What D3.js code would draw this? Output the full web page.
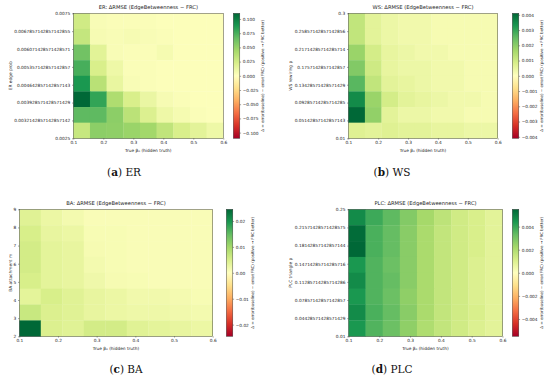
<!DOCTYPE html>
<html>
<head>
<meta charset="utf-8">
<script src="https://cdn.jsdelivr.net/npm/d3@7"></script>
<style>
  body { margin: 0; background: #fff; }
  svg { display: block; }
  text { font-family: "DejaVu Sans", sans-serif; fill: #222; }
  .cap { font-family: "DejaVu Serif", "Liberation Serif", serif; fill: #111; }
</style>
</head>
<body>
<div id="chart"></div>
<script>
// ---- data (rows listed top row first, 9 columns = beta0 bins 0.1..0.6) ----
var betaTicks = [0.1, 0.2, 0.3, 0.4, 0.5, 0.6];

var erYTicks = [0.0025, 0.0032142857142857142, 0.003928571428571429, 0.004642857142857143,
                0.005357142857142857, 0.006071428571428571, 0.0067857142857142855, 0.0075];
var erValues = [
  [0.026, 0.004, 0.003, 0.003, 0.003, 0.002, 0.002, 0.002, 0.002],
  [0.031, 0.005, 0.004, 0.005, 0.004, 0.003, 0.002, 0.002, 0.002],
  [0.062, 0.017, 0.004, 0.003, 0.003, 0.006, 0.002, 0.002, 0.002],
  [0.075, 0.022, 0.010, 0.003, 0.003, 0.002, 0.002, 0.002, 0.002],
  [0.088, 0.036, 0.013, 0.004, 0.003, 0.002, 0.002, 0.002, 0.002],
  [0.110, 0.081, 0.040, 0.022, 0.012, 0.005, 0.003, 0.002, 0.002],
  [0.068, 0.068, 0.053, 0.035, 0.020, 0.010, 0.006, 0.003, 0.002],
  [0.030, 0.053, 0.052, 0.048, 0.045, 0.033, 0.022, 0.016, 0.010]
];
var erMax = 0.11;
var erCbTicks = [-0.1, -0.075, -0.05, -0.025, 0, 0.025, 0.05, 0.075, 0.1];

var wsYTicks = [0.01, 0.05142857142857143, 0.09285714285714285, 0.13428571428571429,
                0.17571428571428571, 0.21714285714285714, 0.25857142857142856, 0.3];
var wsValues = [
  [0.0012, 0.0006, 0.0004, 0.0003, 0.0003, 0.0002, 0.0002, 0.0002, 0.0002],
  [0.0012, 0.0006, 0.0004, 0.0003, 0.0003, 0.0002, 0.0002, 0.0002, 0.0002],
  [0.0018, 0.0009, 0.0005, 0.0004, 0.0003, 0.0003, 0.0002, 0.0002, 0.0002],
  [0.0021, 0.0010, 0.0005, 0.0004, 0.0004, 0.0003, 0.0003, 0.0002, 0.0002],
  [0.0026, 0.0012, 0.0006, 0.0005, 0.0004, 0.0003, 0.0003, 0.0002, 0.0002],
  [0.0035, 0.0018, 0.0009, 0.0006, 0.0005, 0.0004, 0.0003, 0.0003, 0.0002],
  [0.0041, 0.0019, 0.0006, 0.0004, 0.0004, 0.0003, 0.0003, 0.0002, 0.0002],
  [0.0007, 0.0006, 0.0007, 0.0006, 0.0006, 0.0005, 0.0005, 0.0004, 0.0004]
];
var wsMax = 0.0041;
var wsCbTicks = [-0.004, -0.003, -0.002, -0.001, 0, 0.001, 0.002, 0.003, 0.004];

var baYTicks = [2, 3, 4, 5, 6, 7, 8, 9];
var baValues = [
  [0.0040, 0.0025, 0.0015, 0.0008, 0.0008, 0.0008, 0.0008, 0.0008, 0.0008],
  [0.0050, 0.0030, 0.0025, 0.0010, 0.0010, 0.0008, 0.0008, 0.0008, 0.0008],
  [0.0055, 0.0035, 0.0030, 0.0012, 0.0010, 0.0008, 0.0008, 0.0008, 0.0008],
  [0.0055, 0.0035, 0.0030, 0.0015, 0.0010, 0.0008, 0.0008, 0.0008, 0.0008],
  [0.0050, 0.0035, 0.0030, 0.0020, 0.0012, 0.0010, 0.0008, 0.0008, 0.0008],
  [0.0035, 0.0050, 0.0040, 0.0030, 0.0025, 0.0018, 0.0018, 0.0014, 0.0010],
  [0.0065, 0.0045, 0.0040, 0.0030, 0.0025, 0.0022, 0.0022, 0.0018, 0.0015],
  [0.0245, 0.0045, 0.0040, 0.0055, 0.0055, 0.0040, 0.0035, 0.0030, 0.0025]
];
var baMax = 0.0245;
var baCbTicks = [-0.02, -0.01, 0, 0.01, 0.02];

var plcYTicks = [0.01, 0.04428571428571429, 0.07857142857142857, 0.11285714285714286,
                 0.14714285714285716, 0.18142857142857144, 0.21571428571428575, 0.25];
var plcValues = [
  [0.0047, 0.0039, 0.0034, 0.0028, 0.0022, 0.0017, 0.0013, 0.0011, 0.0008],
  [0.0054, 0.0037, 0.0033, 0.0027, 0.0021, 0.0016, 0.0013, 0.0011, 0.0008],
  [0.0055, 0.0037, 0.0033, 0.0027, 0.0021, 0.0016, 0.0013, 0.0011, 0.0008],
  [0.0044, 0.0036, 0.0032, 0.0027, 0.0021, 0.0016, 0.0013, 0.0010, 0.0008],
  [0.0047, 0.0036, 0.0033, 0.0027, 0.0021, 0.0016, 0.0013, 0.0010, 0.0008],
  [0.0044, 0.0036, 0.0032, 0.0026, 0.0021, 0.0016, 0.0013, 0.0010, 0.0008],
  [0.0047, 0.0037, 0.0033, 0.0027, 0.0021, 0.0016, 0.0013, 0.0011, 0.0008],
  [0.0044, 0.0036, 0.0032, 0.0026, 0.0020, 0.0016, 0.0013, 0.0010, 0.0008]
];
var plcMax = 0.0055;
var plcCbTicks = [-0.004, -0.002, 0, 0.002, 0.004];

var cbLabel = "\u0394 = error(baseline) \u2212 error(FRC)  (positive \u2192 FRC better)";
var xLabel = "True \u03b2\u2080 (hidden truth)";

// ---- layout ----
var panels = [
  { name: "ER", values: erValues, yTicks: erYTicks, vmax: erMax, cbTicks: erCbTicks, cbFmt: ".3f",
    ylab: "ER edge prob", cap: ["a", "ER"], capX: 124, capY: 176,
    x0: 73.3, x1: 223.3, y0: 13.3, y1: 138.3, cb: 233.3, ylabX: 10, cbLabX: 263 },
  { name: "WS", values: wsValues, yTicks: wsYTicks, vmax: wsMax, cbTicks: wsCbTicks, cbFmt: ".3f",
    ylab: "WS rewiring p", cap: ["b", "WS"], capX: 392, capY: 176,
    x0: 348.3, x1: 497.7, y0: 13.3, y1: 138.3, cb: 512.3, ylabX: 290, cbLabX: 541.5 },
  { name: "BA", values: baValues, yTicks: baYTicks, vmax: baMax, cbTicks: baCbTicks, cbFmt: ".2f",
    ylab: "BA attachment m", cap: ["c", "BA"], capX: 126, capY: 373,
    x0: 19.3, x1: 212.7, y0: 209.3, y1: 336.3, cb: 226.3, ylabX: 10, cbLabX: 253 },
  { name: "PLC", values: plcValues, yTicks: plcYTicks, vmax: plcMax, cbTicks: plcCbTicks, cbFmt: ".3f",
    ylab: "PLC triangle p", cap: ["d", "PLC"], capX: 392, capY: 373,
    x0: 348.5, x1: 502.5, y0: 209.3, y1: 336.3, cb: 512.3, ylabX: 290, cbLabX: 541.5 }
];

var svg = d3.select("#chart").append("svg")
    .attr("width", 550).attr("height", 382);
svg.append("rect").attr("width", 550).attr("height", 382).attr("fill", "#fff");

var scheme = d3.schemeRdYlGn[11];
var minus = function (s) { return s.replace("-", "\u2212"); };
var defs = svg.append("defs");

panels.forEach(function (p, pi) {
    var g = svg.append("g");
    var nRows = p.values.length, nCols = p.values[0].length;

    var x = d3.scaleLinear().domain([0.1, 0.6]).range([p.x0, p.x1]);
    var y = d3.scaleLinear().domain([p.yTicks[0], p.yTicks[p.yTicks.length - 1]]).range([p.y1, p.y0]);
    var xb = d3.scaleBand().domain(d3.range(nCols)).range([p.x0, p.x1]);
    var yb = d3.scaleBand().domain(d3.range(nRows)).range([p.y0, p.y1]);
    var color = d3.scaleLinear()
        .domain(scheme.map(function (c, i) { return -p.vmax + 2 * p.vmax * i / (scheme.length - 1); }))
        .range(scheme).clamp(true);

    var cells = [];
    p.values.forEach(function (row, r) {
        row.forEach(function (v, c) { cells.push({ r: r, c: c, v: v }); });
    });
    g.selectAll("rect.cell").data(cells).enter().append("rect")
        .attr("class", "cell")
        .attr("x", function (d) { return xb(d.c); })
        .attr("y", function (d) { return yb(d.r); })
        .attr("width", xb.bandwidth() + 0.3)
        .attr("height", yb.bandwidth() + 0.3)
        .attr("fill", function (d) { return color(d.v); });

    g.append("rect")
        .attr("x", p.x0).attr("y", p.y0)
        .attr("width", p.x1 - p.x0).attr("height", p.y1 - p.y0)
        .attr("fill", "none").attr("stroke", "#333").attr("stroke-width", 0.45);

    var xAxis = g.append("g")
        .attr("transform", "translate(0," + p.y1 + ")")
        .call(d3.axisBottom(x).tickValues(betaTicks).tickFormat(d3.format(".1f")).tickSize(1.3).tickPadding(1.6));
    var yAxis = g.append("g")
        .attr("transform", "translate(" + p.x0 + ",0)")
        .call(d3.axisLeft(y).tickValues(p.yTicks).tickFormat(function (d) { return String(d); }).tickSize(1.3).tickPadding(1.8));
    [xAxis, yAxis].forEach(function (a) {
        a.select(".domain").remove();
        a.selectAll("line").attr("stroke", "#333").attr("stroke-width", 0.45);
        a.selectAll("text").style("font-size", "4.3px").style("font-family", "DejaVu Sans").attr("fill", "#222");
    });

    g.append("text")
        .attr("x", (p.x0 + p.x1) / 2).attr("y", p.y0 - 4.2)
        .attr("text-anchor", "middle").style("font-size", "5.2px")
        .text(p.name + ": \u0394RMSE (EdgeBetweenness \u2212 FRC)");
    g.append("text")
        .attr("x", (p.x0 + p.x1) / 2).attr("y", p.y1 + 13.8)
        .attr("text-anchor", "middle").style("font-size", "4.3px")
        .text(xLabel);
    g.append("text")
        .attr("transform", "translate(" + p.ylabX + "," + (p.y0 + p.y1) / 2 + ") rotate(-90)")
        .attr("text-anchor", "middle").attr("dy", "0.35em").style("font-size", "4.3px")
        .text(p.ylab);

    // colorbar
    var gid = "grad" + pi;
    var grad = defs.append("linearGradient").attr("id", gid)
        .attr("x1", 0).attr("y1", 1).attr("x2", 0).attr("y2", 0);
    scheme.forEach(function (c, i) {
        grad.append("stop").attr("offset", i / (scheme.length - 1)).attr("stop-color", c);
    });
    var cbW = 6.5;
    g.append("rect")
        .attr("x", p.cb).attr("y", p.y0)
        .attr("width", cbW).attr("height", p.y1 - p.y0)
        .attr("fill", "url(#" + gid + ")")
        .attr("stroke", "#333").attr("stroke-width", 0.45);
    var cy = d3.scaleLinear().domain([-p.vmax, p.vmax]).range([p.y1, p.y0]);
    var fmt = d3.format(p.cbFmt);
    var cbAxis = g.append("g")
        .attr("transform", "translate(" + (p.cb + cbW) + ",0)")
        .call(d3.axisRight(cy).tickValues(p.cbTicks)
            .tickFormat(function (d) { return minus(fmt(Math.abs(d) < 1e-12 ? 0 : d)); })
            .tickSize(1.3).tickPadding(1.6));
    cbAxis.select(".domain").remove();
    cbAxis.selectAll("line").attr("stroke", "#333").attr("stroke-width", 0.45);
    cbAxis.selectAll("text").style("font-size", "4.3px").style("font-family", "DejaVu Sans").attr("fill", "#222");
    g.append("text")
        .attr("transform", "translate(" + p.cbLabX + "," + (p.y0 + p.y1) / 2 + ") rotate(-90)")
        .attr("text-anchor", "middle").attr("dy", "0.35em").style("font-size", "4px")
        .text(cbLabel);

    // caption
    var cap = g.append("text").attr("class", "cap")
        .attr("x", p.capX).attr("y", p.capY)
        .attr("text-anchor", "middle").style("font-size", "10.5px");
    cap.append("tspan").text("(");
    cap.append("tspan").style("font-weight", "bold").text(p.cap[0]);
    cap.append("tspan").text(") " + p.cap[1]);
});
</script>
</body>
</html>
